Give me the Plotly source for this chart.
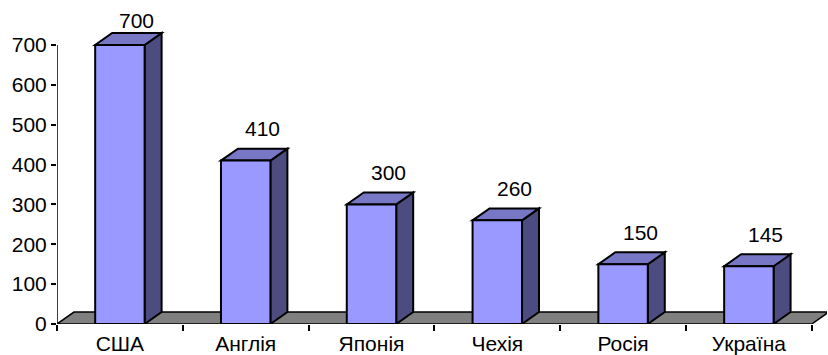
import plotly.graph_objects as go

# Data
countries = ["США", "Англія", "Японія", "Чехія", "Росія", "Україна"]
values = [700, 410, 300, 260, 150, 145]
y_ticks = [0, 100, 200, 300, 400, 500, 600, 700]

# Styling
FONT = "Liberation Sans, Arial, sans-serif"
FONT_SIZE = 21
FRONT = "#9999FF"
TOP = "#7777C6"
SIDE = "#4C4C80"
FLOOR = "#808080"
EDGE = dict(color="black", width=2)
BAR_W = 0.393
DX, DY = 0.135, 30          # 3-D depth offset expressed in axis units
LABEL_GAP = 46              # value label offset above the bar top (axis units)
LABEL_CEIL = 728            # keep the labels inside the chart area

n = len(countries)
pos = list(range(n))


def poly(pts):
    return "M " + " L ".join(f"{x},{y}" for x, y in pts) + " Z"


shapes = []
# floor of the 3-D chart
floor = [(-0.5, 0), (n - 0.5, 0), (n - 0.5 + DX, DY), (-0.5 + DX, DY)]
shapes.append(dict(type="path", path=poly(floor), fillcolor=FLOOR,
                   line=dict(color="black", width=1.5), layer="below"))

# side and top faces of each bar
for i, v in zip(pos, values):
    x0, x1 = i - BAR_W / 2, i + BAR_W / 2
    side = [(x1, 0), (x1, v), (x1 + DX, v + DY), (x1 + DX, DY)]
    top = [(x0, v), (x1, v), (x1 + DX, v + DY), (x0 + DX, v + DY)]
    shapes.append(dict(type="path", path=poly(side), fillcolor=SIDE,
                       line=EDGE, layer="below"))
    shapes.append(dict(type="path", path=poly(top), fillcolor=TOP,
                       line=EDGE, layer="below"))

# value axis line from 0 to the top tick
shapes.append(dict(type="line", x0=-0.5, x1=-0.5, y0=0, y1=max(y_ticks),
                   line=dict(color="black", width=1.5), layer="above"))

annotations = [
    dict(x=i + DX, y=min(v + LABEL_GAP, LABEL_CEIL), text=str(v),
         showarrow=False, yanchor="bottom", xanchor="center",
         font=dict(family=FONT, size=FONT_SIZE, color="black"))
    for i, v in zip(pos, values)
]

fig = go.Figure(go.Bar(
    x=pos, y=values, width=BAR_W,
    marker=dict(color=FRONT, line=EDGE),
    hoverinfo="skip",
))

fig.update_layout(
    width=828, height=355,
    margin=dict(l=57, r=1, t=0, b=31),
    plot_bgcolor="white", paper_bgcolor="white",
    showlegend=False,
    font=dict(family=FONT, size=FONT_SIZE, color="black"),
    shapes=shapes,
    annotations=annotations,
    xaxis=dict(
        range=[-0.5, 5.621], showgrid=False, zeroline=False, showline=False,
        automargin=False,
        tickmode="array", tickvals=pos, ticktext=countries,
        ticks="outside", ticklen=1, tickcolor="rgba(0,0,0,0)",
        minor=dict(tickmode="array", tickvals=[i - 0.5 for i in range(n + 1)],
                   ticks="outside", ticklen=6, tickcolor="black", tickwidth=1.5),
        fixedrange=True,
    ),
    yaxis=dict(
        range=[0, 812.9], showgrid=False, zeroline=False, showline=False,
        automargin=False,
        tickmode="array", tickvals=y_ticks,
        ticks="outside", ticklen=5, tickcolor="black", tickwidth=1.5,
        fixedrange=True,
    ),
)

fig.write_html("out.html")
